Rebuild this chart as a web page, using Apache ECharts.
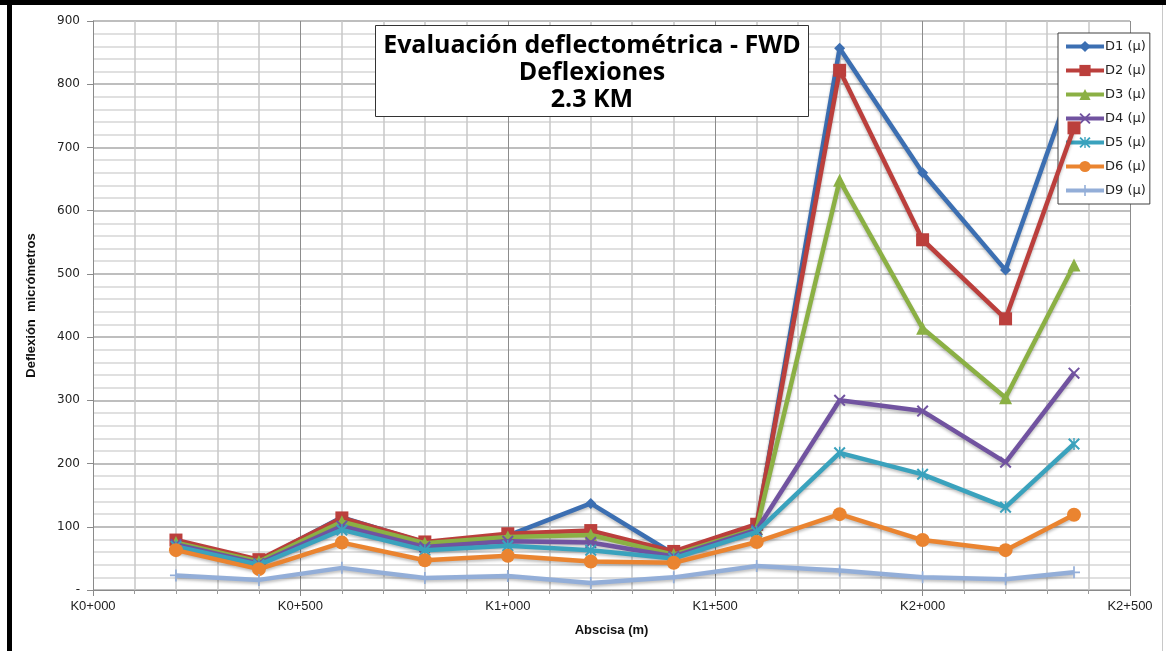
<!DOCTYPE html>
<html>
<head>
<meta charset="utf-8">
<script src="https://cdn.jsdelivr.net/npm/echarts@6/dist/echarts.min.js"></script>
<style>
html,body{margin:0;padding:0;background:#fff;}
#chart{width:1166px;height:651px;}
</style>
</head>
<body>
<div id="chart"></div>
<script>
// ---- data ----
const abscisas = [200, 400, 600, 800, 1000, 1200, 1400, 1600, 1800, 2000, 2200, 2365];
const seriesNames = ['D1 (\u03bc)', 'D2 (\u03bc)', 'D3 (\u03bc)', 'D4 (\u03bc)', 'D5 (\u03bc)', 'D6 (\u03bc)', 'D9 (\u03bc)'];
const D1 = [75, 46, 115, 75, 86, 137, 57, 100, 857, 660, 506, 810];
const D2 = [79, 48, 114, 76, 89, 94, 61, 104, 822, 554, 429, 731];
const D3 = [75, 45, 108, 74, 84, 87, 56, 97, 648, 414, 304, 514];
const D4 = [72, 42, 101, 68, 77, 75, 53, 95, 300, 283, 202, 343];
const D5 = [69, 40, 95, 63, 70, 63, 50, 92, 217, 183, 131, 231];
const D6 = [63, 33, 75, 47, 54, 45, 43, 76, 120, 79, 63, 119];
const D9 = [23, 16, 35, 19, 22, 11, 20, 38, 31, 20, 17, 28];
const xTickLabels = ['K0+000', 'K0+500', 'K1+000', 'K1+500', 'K2+000', 'K2+500'];
const titleLines = ['Evaluación deflectométrica - FWD', 'Deflexiones', '2.3 KM'];

const values = [D1, D2, D3, D4, D5, D6, D9];
const colors = ['#3c6fb2', '#bb3f3c', '#8bb044', '#7153a0', '#3aa2bd', '#ea8430', '#93aed8'];
const symbols = [
  'diamond',
  'rect',
  'triangle',
  'path://M0,1.2 L1.2,0 L10,8.8 L8.8,10 Z M8.8,0 L10,1.2 L1.2,10 L0,8.8 Z',
  'path://M0,1.2 L1.2,0 L10,8.8 L8.8,10 Z M8.8,0 L10,1.2 L1.2,10 L0,8.8 Z M4.4,0 L5.6,0 L5.6,10 L4.4,10 Z',
  'circle',
  'path://M4.3,0 L5.7,0 L5.7,10 L4.3,10 Z M0,4.3 L10,4.3 L10,5.7 L0,5.7 Z'
];
const symSizes = [11, 13, 13, 12, 12, 14, 12];

const series = values.map((v, i) => ({
  name: seriesNames[i],
  type: 'line',
  data: abscisas.map((x, j) => [x, v[j]]),
  symbol: symbols[i],
  symbolSize: symSizes[i],
  showAllSymbol: true,
  itemStyle: {color: colors[i]},
  lineStyle: {width: 4.5, color: colors[i], shadowColor: 'rgba(0,0,0,0.25)', shadowBlur: 3, shadowOffsetY: 2},
  z: 3 + i,
  animation: false
}));

const chart = echarts.init(document.getElementById('chart'), null, {renderer: 'canvas'});
chart.setOption({
  animation: false,
  backgroundColor: '#fff',
  grid: {left: 93, right: 36, top: 21, bottom: 61, containLabel: false},
  xAxis: {
    type: 'value', min: 0, max: 2500, interval: 500,
    name: 'Abscisa (m)', nameLocation: 'middle', nameGap: 34,
    nameTextStyle: {fontFamily: 'Liberation Sans Narrow, Liberation Sans', fontWeight: 'bold', fontSize: 13, color: '#111'},
    axisLine: {show: true, onZero: false, lineStyle: {color: '#8a8a8a', width: 1}},
    axisTick: {show: true, length: 6, lineStyle: {color: '#8a8a8a'}},
    minorTick: {show: true, splitNumber: 5, length: 4, lineStyle: {color: '#9a9a9a'}},
    axisLabel: {
      margin: 10, color: '#222', fontSize: 13,
      fontFamily: 'Liberation Sans Narrow, Liberation Sans',
      formatter: v => xTickLabels[Math.round(v / 500)]
    },
    splitLine: {show: true, lineStyle: {color: '#8c8c8c', width: 1}},
    minorSplitLine: {show: true, lineStyle: {color: '#c8c8c8', width: 1.5}}
  },
  yAxis: {
    type: 'value', min: 0, max: 900, interval: 100,
    name: 'Deflexión  micrómetros', nameLocation: 'middle', nameGap: 55, nameRotate: 90,
    nameTextStyle: {fontFamily: 'Liberation Sans Narrow, Liberation Sans', fontWeight: 'bold', fontSize: 13, color: '#111'},
    axisLine: {show: true, lineStyle: {color: '#8a8a8a', width: 1}},
    axisTick: {show: true, length: 6, lineStyle: {color: '#8a8a8a'}},
    axisLabel: {
      margin: 13, color: '#222', fontSize: 12, fontFamily: 'DejaVu Sans',
      formatter: v => v === 0 ? '-' : String(v)
    },
    splitLine: {show: true, lineStyle: {color: '#a8a8a8', width: 1.5}},
    minorSplitLine: {show: true, lineStyle: {color: '#d6d6d6', width: 1.5}},
    minorTick: {show: false, splitNumber: 5}
  },
  legend: {
    orient: 'vertical', left: 1058, top: 33,
    width: 90,
    padding: [7, 4, 7, 6],
    itemGap: 11, itemWidth: 38, itemHeight: 14,
    backgroundColor: '#fff', borderColor: '#404040', borderWidth: 1,
    lineStyle: {width: 4},
    textStyle: {fontSize: 13, color: '#222', fontFamily: 'DejaVu Sans', padding: [0, 0, 0, -4]},
    data: seriesNames
  },
  graphic: [
    {type: 'rect', shape: {x: 375.5, y: 25.5, width: 433, height: 91}, style: {fill: '#fff', stroke: '#333', lineWidth: 1}, z: 100},
    {type: 'text', x: 592, y: 46, style: {text: titleLines[0], font: 'bold 25px "Open Sans"', fill: '#000', textAlign: 'center', textVerticalAlign: 'middle'}, z: 101},
    {type: 'text', x: 592, y: 73, style: {text: titleLines[1], font: 'bold 25px "Open Sans"', fill: '#000', textAlign: 'center', textVerticalAlign: 'middle'}, z: 101},
    {type: 'text', x: 592, y: 100, style: {text: titleLines[2], font: 'bold 25px "Open Sans"', fill: '#000', textAlign: 'center', textVerticalAlign: 'middle'}, z: 101},
    {type: 'rect', shape: {x: 0, y: 0, width: 1166, height: 5}, style: {fill: '#000'}, z: 100},
    {type: 'rect', shape: {x: 7, y: 0, width: 5, height: 651}, style: {fill: '#000'}, z: 100},
    {type: 'rect', shape: {x: 1162, y: 5, width: 1, height: 646}, style: {fill: '#c8c8c8'}, z: 100}
  ],
  series: series
});
</script>
</body>
</html>
